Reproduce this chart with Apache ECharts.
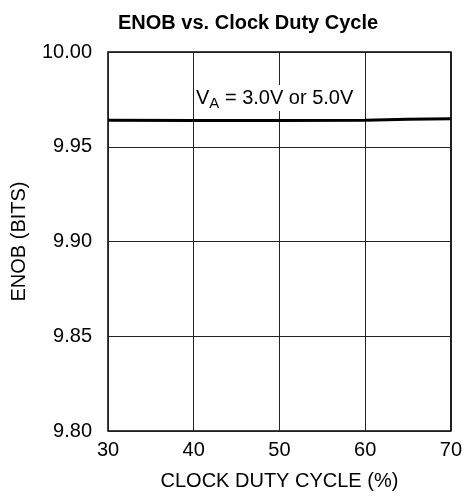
<!DOCTYPE html>
<html lang="en">
<head>
    <meta charset="utf-8">
    <title>ENOB vs. Clock Duty Cycle</title>
    <script src="https://cdn.jsdelivr.net/npm/echarts@6/dist/echarts.min.js"></script>
    <style>
        body { margin: 0; background: #fff; }
        #main { width: 465px; height: 498px; }
    </style>
</head>
<body>
    <div id="main"></div>
    <script type="text/javascript">
        var dutyCycle = [30, 40, 50, 60, 65, 70];
        var enob = [9.9640, 9.9638, 9.9638, 9.9640, 9.9645, 9.9648];
        var xTicks = [30, 40, 50, 60, 70];
        var yTicks = [9.80, 9.85, 9.90, 9.95, 10.00];

        var font = '"Liberation Sans", Arial, sans-serif';
        var myChart = echarts.init(document.getElementById('main'));

        myChart.setOption({
            animation: false,
            title: {
                text: 'ENOB vs. Clock Duty Cycle',
                left: 113,
                top: 8,
                textStyle: { fontFamily: font, fontSize: 20, fontWeight: 'bold', color: '#000' }
            },
            grid: {
                left: 108, right: 13, top: 52, bottom: 67,
                show: true, borderColor: '#000', borderWidth: 1.5
            },
            xAxis: {
                type: 'value',
                min: xTicks[0], max: xTicks[xTicks.length - 1], interval: 10,
                name: 'CLOCK DUTY CYCLE (%)',
                nameLocation: 'middle', nameGap: 40,
                nameTextStyle: { fontFamily: font, fontSize: 20, color: '#000' },
                axisLine: { show: false },
                axisTick: { show: false },
                axisLabel: { fontFamily: font, fontSize: 20, color: '#000', margin: 9 },
                splitLine: { show: true, lineStyle: { color: '#222', width: 1 } }
            },
            yAxis: {
                type: 'value',
                min: yTicks[0], max: yTicks[yTicks.length - 1], interval: 0.05,
                name: 'ENOB (BITS)',
                nameLocation: 'middle', nameGap: 79,
                nameTextStyle: { fontFamily: font, fontSize: 20, color: '#000' },
                axisLine: { show: false },
                axisTick: { show: false },
                axisLabel: {
                    fontFamily: font, fontSize: 20, color: '#000', margin: 16,
                    formatter: function (v) { return v.toFixed(2); }
                },
                splitLine: { show: true, lineStyle: { color: '#222', width: 1 } }
            },
            series: [{
                type: 'line',
                data: dutyCycle.map(function (d, i) { return [d, enob[i]]; }),
                showSymbol: false,
                lineStyle: { color: '#000', width: 3 },
                z: 5
            }],
            graphic: [{
                type: 'text',
                left: 195, top: 85,
                z: 10,
                style: {
                    text: '{n|V}{s|A}{n| = 3.0V or 5.0V}',
                    backgroundColor: '#fff',
                    padding: [0, 1, 0, 1],
                    rich: {
                        n: { fontFamily: font, fontSize: 20, color: '#000', lineHeight: 26 },
                        s: { fontFamily: font, fontSize: 15, color: '#000', verticalAlign: 'bottom', padding: [10, 0, 0, 0] }
                    }
                }
            }]
        });
    </script>
</body>
</html>
